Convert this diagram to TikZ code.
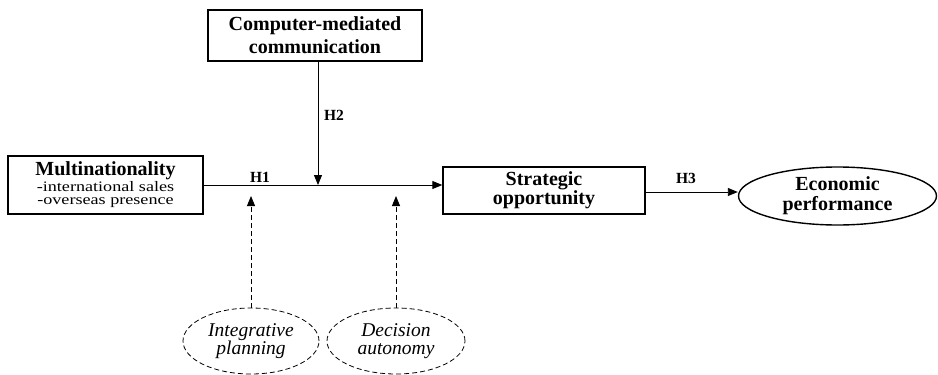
\documentclass[tikz,border=0pt]{standalone}
\usepackage{fontspec}
\setmainfont{Liberation Serif}
\newfontfamily\widefont{Liberation Serif}[FakeStretch=1.25]
\usetikzlibrary{arrows.meta,shapes.geometric}
\begin{document}
\begin{tikzpicture}[x=1pt,y=-1pt,
  solidbox/.style={draw,line width=1.4pt,inner sep=0pt,align=center},
  oval/.style={draw,ellipse,inner sep=0pt,align=center},
  dashedoval/.style={oval,line width=0.8pt,dash pattern=on 5pt off 3pt,font=\fontsize{19.5}{18.5}\selectfont\itshape},
  conn/.style={line width=0.9pt,-{Triangle[length=10pt,width=8pt]}},
  dconn/.style={line width=0.9pt,dash pattern=on 5pt off 3pt,-{Triangle[length=10pt,width=8pt]}},
  hlab/.style={font=\fontsize{15.5}{15.5}\selectfont\bfseries,inner sep=0pt}]
\useasboundingbox (0,0) rectangle (938,375);
% boxes
\node[solidbox,minimum width=214pt,minimum height=51pt,font=\fontsize{20}{23}\selectfont\bfseries] (cmc) at (315,35.5) {Computer-mediated\\communication};
\node[solidbox,minimum width=195pt,minimum height=58pt,font=\widefont\fontsize{14.5}{13.5}\selectfont] (multi) at (105.5,185) {{\fontsize{20}{13.5}\rmfamily\bfseries\selectfont Multinationality}\\-international sales\\-overseas presence};
\node[solidbox,minimum width=202pt,minimum height=47pt,font=\fontsize{20}{15.5}\selectfont\bfseries] (strat) at (544,190.5) {Strategic\\opportunity};
\node[oval,line width=1.4pt,minimum width=198pt,minimum height=58pt,font=\fontsize{20}{20}\selectfont\bfseries] (econ) at (837.5,196) {Economic\\performance};
\node[dashedoval,minimum width=136pt,minimum height=66pt] (integ) at (251,341) {Integrative\\planning};
\node[dashedoval,minimum width=138pt,minimum height=66pt] (decis) at (396,341) {Decision\\autonomy};
% connector points
\coordinate (m1) at (multi.east |- 0,185);
\coordinate (s1) at (strat.west |- 0,185);
\coordinate (h2end) at (318,185);
\coordinate (ipend) at (251,196);
\coordinate (daend) at (396,196);
\draw[conn] (m1) -- (s1);
\draw[conn] (cmc.south -| h2end) -- (h2end);
\draw[conn] (strat.east |- 0,192) -- (econ.west |- 0,192);
\draw[dconn] (integ.north) -- (ipend);
\draw[dconn] (decis.north) -- (daend);
% labels
\node[hlab] (h1) at (260,177) {H1};
\node[hlab] (h2) at (334,115) {H2};
\node[hlab] (h3) at (686,178) {H3};
\end{tikzpicture}
\end{document}
